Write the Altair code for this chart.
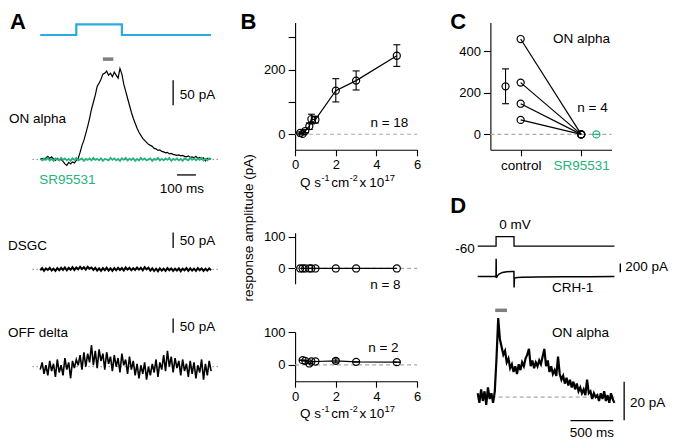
import altair as alt
import pandas as pd

# ---------------- data ----------------
# Panel A : light step (ms) and digitised whole-cell currents (pA), sampled every 10 ms
stim_t = [0, 190, 190, 430, 430, 900]
stim_level = [0, 0, 1, 1, 0, 0]
a_dt = 10
on_alpha_pa = [0, 2, -1, 3, 6, 2, 5, 1, -2, 2,
               -1, 0, -4, -9, -12, -6, -9, -5, -7, -2,
               2, 14, 28, 38, 52, 66, 82, 100, 114, 128,
               146, 152, 160, 170, 172, 176, 168, 172, 165, 174,
               168, 162, 181, 170, 150, 136, 122, 108, 94, 82,
               72, 62, 54, 48, 42, 38, 34, 30, 28, 26,
               22, 21, 18, 19, 16, 15, 13, 14, 11, 12,
               10, 9, 8, 9, 7, 8, 6, 5, 7, 4,
               5, 3, 6, 2, 4, 1, 3, -3, 2, 0,
               2]
sr_pa = [1, -2, 2, -1, 3, -2, 1, -3, 2, 0,
         -2, 3, -1, 2, -2, 1, -3, 2, -1, 3,
         -2, 0, 2, -3, 1, -1, 2, -2, 3, -1,
         1, -2, 2, -3, 1, 0, -2, 3, -1, 2,
         -2, 1, -3, 2, -1, 3, -2, 1, -1, 2,
         -3, 1, -2, 3, -1, 2, -2, 0, 2, -3,
         1, -1, 3, -2, 1, -2, 2, -1, 3, -3,
         1, -1, 2, -2, 1, -3, 2, 0, -2, 3,
         -1, 2, -2, 1, -1, 3, -2, 1, -2, 2,
         0]
dsgc_pa = [-3, 4, -5, 3, -2, 5, -4, 2, -5, 4,
           -3, 5, -2, 6, -3, 5, -1, 7, -2, 6,
           0, 8, 1, 7, -1, 8, 2, 6, -2, 5,
           -4, 3, -5, 4, -3, 5, -4, 3, -5, 4,
           -3, 5, -2, 4, -4, 6, -1, 5, -3, 4,
           -2, 6, -1, 5, -3, 7, 0, 5, -4, 3,
           -5, 2, -6, 3, -4, 2, -5, 4, -3, 3,
           -5, 2, -4, 3, -6, 2, -3, 4, -5, 3,
           -4, 2, -5, 4, -3, 3, -5, 2, -4, 3,
           -3]
offd_pa = [-10, 15, -25, 5, -30, 20, -15, 10, -35, 25,
           -20, 5, -30, 30, -10, 15, -40, 20, -5, 25,
           5, 40, -10, 50, 0, 45, 15, 75, 5, 55,
           -5, 60, 20, 45, -10, 50, 10, 35, -15, 40,
           0, 30, -20, 45, 5, 25, -25, 35, -10, 20,
           -30, 10, -40, 5, -25, 15, -45, 0, -30, 10,
           -20, 25, -35, 15, -10, 40, -15, 55, 0, 35,
           -20, 30, -5, 20, -30, 25, -15, 10, -35, 20,
           -25, 15, -40, 5, -20, 25, -45, 10, -30, 20,
           -15]

# Panel B : response amplitude vs light intensity (Q s-1 cm-2 x 1e17)
b1_q = [0.25, 0.37, 0.5, 0.7, 0.8, 1.0, 2, 3, 5]
b1_amp = [4, 1, 10, 25, 47, 45, 135, 166, 243]
b1_lo = [1, -2, 5, 15, 32, 35, 100, 137, 210]
b1_hi = [7, 4, 15, 35, 62, 55, 172, 196, 277]
b2_q = [0.25, 0.37, 0.5, 0.7, 0.8, 1.0, 2, 3, 5]
b2_amp = [0, 0, 0, 0, 0, 0, 0, 0, 0]
b3_q = [0.37, 0.5, 0.7, 0.8, 1.0, 2, 3, 5]
b3_amp = [14, 12, 4, 10, 10, 12, 9, 8]
b3_lo = [14, 12, 4, 10, 10, 6, 9, 8]
b3_hi = [14, 12, 4, 10, 10, 18, 9, 8]

# Panel C : paired control / SR95531 amplitudes (pA)
c_control = [460, 250, 148, 70]
c_sr = [0, 0, 0, 0]
c_mean, c_lo, c_hi = 232, 148, 316
c_sr_mean = 0

# Panel D : voltage step (mV), CRH-1 current (pA), ON alpha current (pA, every 20 ms)
d_v_t = [0, 215, 215, 425, 425, 1600]
d_v_mv = [-60, -60, 0, 0, -60, -60]
d_crh_t = [0, 214, 216, 218, 230, 250, 290, 340, 400, 424, 426, 430, 445, 470, 520, 700, 1000, 1300, 1600]
d_crh_pa = [0, 0, 490, -40, 20, 70, 115, 135, 140, 140, -300, -40, -30, -25, -20, -12, -6, -3, 0]
d_dt = 20
d_on_pa = [2, -3, 4, -2, 3, -4, 5, -1, 2, -3,
           3, 20, 41, 30, 26, 22, 24, 18, 20, 15,
           17, 13, 16, 12, 17, 14, 18, 16, 20, 22,
           25, 16, 19, 15, 18, 16, 19, 17, 21, 25,
           16, 19, 13, 16, 12, 14, 11, 21, 12, 9,
           11, 7, 10, 6, 9, 5, 8, 4, 7, 3,
           5, 2, 4, 1, 9, 2, 3, -1, 2, 0,
           1, -2, 2, -1, 3, -2, 1, -3, 2, -1,
           -3]

# ---------------- layout helpers ----------------
W, H = 665, 432
SX, SY = W / 681, H / 448
FONT = "Liberation Sans"
GREEN = "#27B37A"
BLUE = "#29ABE2"
GRAY = "#7F7F7F"
DASHC = "#AAAAAA"


def X(r):
    return r * SX


def Y(r):
    return r * SY


def sc(dom, r0, r1):
    return alt.Scale(domain=dom, range=[r0, r1], nice=False, zero=False)


def ln(xv, yv, xs, ys, color="black", width=1.0, dash=None, xaxis=None, yaxis=None):
    df = pd.DataFrame({"x": xv, "y": yv, "i": list(range(len(xv)))})
    kw = dict(color=color, strokeWidth=width)
    if dash:
        kw["strokeDash"] = dash
    return alt.Chart(df).mark_line(**kw).encode(
        x=alt.X("x:Q", scale=xs, axis=xaxis),
        y=alt.Y("y:Q", scale=ys, axis=yaxis),
        order="i:Q")


def rule(xs, ys, x, y, x2=None, y2=None, color="black", width=1.0, dash=None):
    d = {"x": [x], "y": [y]}
    enc = dict(x=alt.X("x:Q", scale=xs, axis=None), y=alt.Y("y:Q", scale=ys, axis=None))
    if x2 is not None:
        d["x2"] = [x2]
        enc["x2"] = alt.X2("x2:Q")
    if y2 is not None:
        d["y2"] = [y2]
        enc["y2"] = alt.Y2("y2:Q")
    kw = dict(color=color, strokeWidth=width)
    if dash:
        kw["strokeDash"] = dash
    return alt.Chart(pd.DataFrame(d)).mark_rule(**kw).encode(**enc)


def pts(xv, yv, xs, ys, color="black", xaxis=None, yaxis=None):
    df = pd.DataFrame({"x": xv, "y": yv})
    return alt.Chart(df).mark_point(shape="circle", filled=False, size=50, color=color,
                                    strokeWidth=1.2, opacity=1).encode(
        x=alt.X("x:Q", scale=xs, axis=xaxis), y=alt.Y("y:Q", scale=ys, axis=yaxis))


def errbars(xv, lo, hi, xs, ys, color="black"):
    df = pd.DataFrame({"x": xv, "lo": lo, "hi": hi})
    base = alt.Chart(df)
    r = base.mark_rule(color=color, strokeWidth=1.1).encode(
        x=alt.X("x:Q", scale=xs, axis=None), y=alt.Y("lo:Q", scale=ys, axis=None), y2="hi:Q")
    t1 = base.mark_tick(orient="horizontal", size=7, thickness=1.1, color=color, opacity=1).encode(
        x=alt.X("x:Q", scale=xs, axis=None), y=alt.Y("lo:Q", scale=ys, axis=None))
    t2 = base.mark_tick(orient="horizontal", size=7, thickness=1.1, color=color, opacity=1).encode(
        x=alt.X("x:Q", scale=xs, axis=None), y=alt.Y("hi:Q", scale=ys, axis=None))
    return [r, t1, t2]


def txt(s, x, y, size=13.5, align="left", color="black", weight="normal", angle=None):
    kw = dict(align=align, baseline="middle", font=FONT, fontSize=size, color=color, fontWeight=weight)
    if angle is not None:
        kw["angle"] = angle
    return alt.Chart(pd.DataFrame({"s": [s]})).mark_text(**kw).encode(
        x=alt.value(X(x)), y=alt.value(Y(y)), text="s:N")


layers = []

# ---------------- Panel A ----------------
xA = sc([0, 900], X(33), X(208))
yStim = sc([0, 1], Y(28), Y(17))
yA1 = sc([0, 200], Y(157), Y(53))
yA2 = sc([-50, 50], Y(287), Y(255))
yA3 = sc([-50, 50], Y(387), Y(357))
ta = [i * a_dt for i in range(len(on_alpha_pa))]

layers.append(ln(stim_t, stim_level, xA, yStim, color=BLUE, width=2.2))
layers.append(rule(xA, yA1, 330, 200, x2=385, color=GRAY, width=3.5))
layers.append(rule(xA, yA1, -41, 0, x2=936, color="#888888", width=1, dash=[1.5, 2.5]))
layers.append(ln(ta, on_alpha_pa, xA, yA1, width=1.2))
layers.append(ln(ta, sr_pa, xA, yA1, color=GREEN, width=1.8))
layers.append(rule(xA, yA1, 700, 108, y2=158, width=1.3))
layers.append(rule(xA, yA1, 720, -31, x2=820, width=1.3))
layers.append(txt("50 pA", 176, 90))
layers.append(txt("100 ms", 178, 188, align="center"))
layers.append(txt("ON alpha", 1, 115))
layers.append(txt("SR95531", 32, 178, color=GREEN))

layers.append(rule(xA, yA2, -41, 0, x2=936, color="#888888", width=1, dash=[1.5, 2.5]))
layers.append(ln(ta, dsgc_pa, xA, yA2, width=2.0))
layers.append(rule(xA, yA2, 700, 69, y2=119, width=1.3))
layers.append(txt("50 pA", 176, 242))
layers.append(txt("DSGC", 0, 247))

layers.append(rule(xA, yA3, -41, 0, x2=936, color="#888888", width=1, dash=[1.5, 2.5]))
layers.append(ln(ta, offd_pa, xA, yA3, width=1.6))
layers.append(rule(xA, yA3, 700, 117, y2=167, width=1.3))
layers.append(txt("50 pA", 176, 331))
layers.append(txt("OFF delta", 0, 337))

# ---------------- Panel B ----------------
xB = sc([0, 6], X(294), X(419))
yB1 = sc([-48, 346], Y(147), Y(15))
yB2 = sc([-48, 112], Y(286), Y(233))
yB3 = sc([-50, 100], Y(387), Y(336))


def yaxis(vals, x_ref, expr=None):
    kw = dict(orient="left", offset=-X(x_ref), values=vals, title=None)
    if expr:
        kw["labelExpr"] = expr
    return alt.Axis(**kw)


def xaxis(vals, y_ref, expr=None):
    kw = dict(orient="bottom", offset=Y(y_ref) - H, values=vals, title=None, tickSize=6)
    if expr:
        kw["labelExpr"] = expr
    return alt.Axis(**kw)


layers.append(rule(xB, yB1, 0, 0, x2=6, color=DASHC, width=1.2, dash=[4, 3]))
layers.append(ln(b1_q, b1_amp, xB, yB1, width=1.2,
                 xaxis=xaxis([0, 2, 4, 6], 147),
                 yaxis=yaxis([0, 100, 200, 300], 294,
                             "datum.value == 0 || datum.value == 200 ? datum.label : ''")))
layers += errbars(b1_q, b1_lo, b1_hi, xB, yB1)
layers.append(pts(b1_q, b1_amp, xB, yB1))
layers.append(txt("n = 18", 410, 119, align="right"))

layers.append(rule(xB, yB2, 0, 0, x2=6, color=DASHC, width=1.2, dash=[4, 3]))
layers.append(ln(b2_q, b2_amp, xB, yB2, width=1.2, yaxis=yaxis([0, 100], 294)))
layers.append(pts(b2_q, b2_amp, xB, yB2))
layers.append(txt("n = 8", 402, 287, align="right"))

layers.append(rule(xB, yB3, 0, 0, x2=6, color=DASHC, width=1.2, dash=[4, 3]))
layers.append(ln(b3_q, b3_amp, xB, yB3, width=1.2,
                 xaxis=xaxis([0, 2, 4, 6], 387), yaxis=yaxis([0, 100], 294)))
layers += errbars(b3_q, b3_lo, b3_hi, xB, yB3)
layers.append(pts(b3_q, b3_amp, xB, yB3))
layers.append(txt("n = 2", 400, 353, align="right"))

layers.append(txt("response amplitude (pA)", 247, 228, angle=270, align="center"))
for yb in (181, 421):
    layers.append(txt("Q", 299, yb, size=13.5))
    layers.append(txt("s", 313.5, yb, size=13.5))
    layers.append(txt("-1", 321, yb - 5, size=9))
    layers.append(txt("cm", 331, yb, size=13.5))
    layers.append(txt("-2", 350, yb - 5, size=9))
    layers.append(txt("x", 360, yb, size=13.5))
    layers.append(txt("10", 370, yb, size=13.5))
    layers.append(txt("17", 385.5, yb - 5, size=9.5))

# ---------------- Panel C ----------------
xC = sc([0.5, 2.5], X(494), X(618))
yC = sc([-74, 540], Y(147), Y(15))
layers.append(rule(xC, yC, 0.5, 0, x2=2.5, color=DASHC, width=1.2, dash=[4, 3]))
pair = pd.DataFrame({
    "x": [1] * len(c_control) + [2] * len(c_sr),
    "y": c_control + c_sr,
    "cell": list(range(len(c_control))) * 2,
})
layers.append(alt.Chart(pair).mark_line(color="black", strokeWidth=1.2).encode(
    x=alt.X("x:Q", scale=xC, axis=alt.Axis(
        orient="bottom", offset=Y(147) - H, values=[1, 2], title=None, tickSize=6,
        labelFontSize=13.5,
        labelExpr="datum.value == 1 ? 'control' : 'SR95531'",
        labelColor={"condition": {"test": "datum.value == 2", "value": GREEN}, "value": "black"})),
    y=alt.Y("y:Q", scale=yC, axis=yaxis([0, 200, 400], 494)),
    detail="cell:N"))
layers.append(pts([1] * len(c_control), c_control, xC, yC))
layers.append(pts([2] * len(c_sr), c_sr, xC, yC))
layers += errbars([0.75], [c_lo], [c_hi], xC, yC)
layers.append(pts([0.75], [c_mean], xC, yC))
layers += errbars([2.25], [c_sr_mean], [c_sr_mean], xC, yC, color=GREEN)
layers.append(pts([2.25], [c_sr_mean], xC, yC, color=GREEN))
layers.append(txt("ON alpha", 558, 32))
layers.append(txt("n = 4", 583, 104))

# ---------------- Panel D ----------------
xD = sc([0, 1600], X(481), X(621))
yDv = sc([-60, 0], Y(247), Y(237))
yDc = sc([0, 200], Y(278.5), Y(271))
yDo = sc([0, 20], Y(403.5), Y(363.5))
td = [i * d_dt for i in range(len(d_on_pa))]
layers.append(ln(d_v_t, d_v_mv, xD, yDv, width=1.3))
layers.append(ln(d_crh_t, d_crh_pa, xD, yDc, width=1.5))
layers.append(rule(xD, yDc, 1669, 120, y2=360, width=1.4))
layers.append(rule(xD, yDo, 205, 45, x2=343, color=GRAY, width=3.5))
layers.append(rule(xD, yDo, 0, 0, x2=1600, color=DASHC, width=1.2, dash=[4, 3]))
layers.append(ln(td, d_on_pa, xD, yDo, width=2.2))
layers.append(rule(xD, yDo, 1714, -12, y2=8, width=1.3))
layers.append(rule(xD, yDo, 1086, -12.25, x2=1586, width=1.3))
layers.append(txt("-60", 478, 250, align="right"))
layers.append(txt("0 mV", 503, 225))
layers.append(txt("200 pA", 632, 269))
layers.append(txt("CRH-1", 557, 290))
layers.append(txt("ON alpha", 557, 337))
layers.append(txt("20 pA", 637, 410))
layers.append(txt("500 ms", 598, 441, align="center"))

# ---------------- panel letters ----------------
for letter, lx, ly in [("A", 2, 15), ("B", 238, 14), ("C", 453, 14), ("D", 453, 205)]:
    layers.append(txt(letter, lx, ly, size=22, weight="bold"))

chart = alt.layer(*layers).resolve_scale(
    x="independent", y="independent").resolve_axis(
    x="independent", y="independent").properties(
    width=W, height=H, autosize=alt.AutoSizeParams(type="none"), padding=0,
    background="white").configure_view(stroke=None).configure_axis(
    labelFont=FONT, labelFontSize=13, labelColor="black", domainColor="black",
    tickColor="black", domainWidth=1.1, tickWidth=1.1, tickSize=7, labelPadding=3,
    grid=False, labelFlush=False, labelOverlap=False, labelBound=False)

chart.save("out.html", embed_options={"renderer": "svg", "actions": False})
